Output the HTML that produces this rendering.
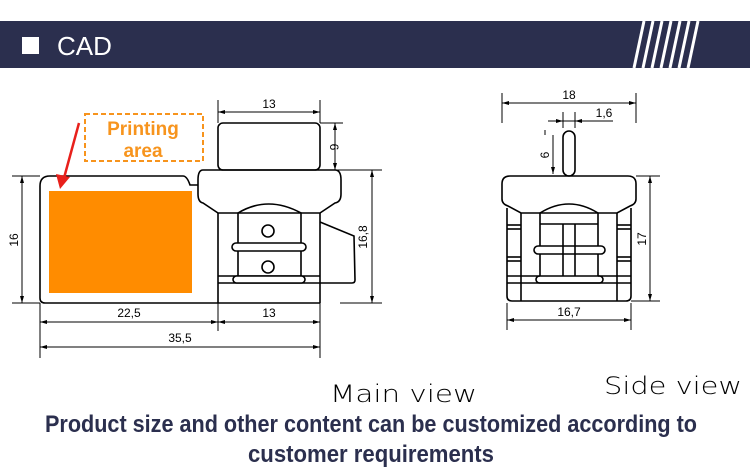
<!DOCTYPE html>
<html><head><meta charset="utf-8"><style>
html,body{margin:0;padding:0;background:#fff;}
body{width:750px;height:471px;overflow:hidden;position:relative;}
</style></head><body>
<svg width="750" height="471" viewBox="0 0 750 471" xmlns="http://www.w3.org/2000/svg" style="position:absolute;left:0;top:0">
<rect x="0" y="21" width="750" height="47" fill="#2b2f4e"/>
<rect x="22" y="37" width="17" height="17" fill="#fff"/>
<text x="57" y="55" font-family="Liberation Sans, sans-serif" font-size="26" fill="#fff">CAD</text>
<g stroke="#fff" stroke-width="3">
<line x1="644" y1="21" x2="634" y2="68"/><line x1="653" y1="21" x2="643" y2="68"/>
<line x1="662" y1="21" x2="652" y2="68"/><line x1="671" y1="21" x2="661" y2="68"/>
<line x1="680" y1="21" x2="670" y2="68"/><line x1="689" y1="21" x2="679" y2="68"/>
<line x1="698" y1="21" x2="688" y2="68"/>
</g>

<g fill="none" stroke="#000" stroke-width="1.6">
<path d="M198,185 L190,185 Q187,176 183,176 L50,176 Q40,176 40,186 L40,298 Q40,303 45,303 L320,303"/>
<rect x="218" y="123" width="102" height="47" rx="5"/>
<path d="M203,170 L335,170 Q341,170 341,180 L341,194 Q341,202 335,203 L320,213 L218,213 L203,203 Q198,202 198,194 L198,180 Q198,170 203,170 Z"/>
<line x1="218" y1="213" x2="218" y2="303"/>
<line x1="320" y1="213" x2="320" y2="303"/>
<path d="M238,276 L238,213 Q268,195 301,213 L301,276"/>
<circle cx="268" cy="231" r="6"/>
<circle cx="268" cy="267" r="6"/>
<rect x="232" y="243" width="74" height="8" rx="4" fill="#fff"/>
<line x1="218" y1="276" x2="320" y2="276"/>
<line x1="218" y1="283" x2="320" y2="283"/>
<rect x="233" y="276" width="72" height="7" rx="3.5" fill="#fff"/>
<path d="M320,222 L354,236 L355,280 Q355,283 352,283 L320,283"/>
</g>

<g stroke="#000" stroke-width="1" fill="none">
<line x1="218" y1="100" x2="218" y2="123"/><line x1="320" y1="100" x2="320" y2="123"/>
<line x1="218" y1="112" x2="320" y2="112"/>
<line x1="320" y1="123" x2="343" y2="123"/><line x1="320" y1="170" x2="343" y2="170"/>
<line x1="335" y1="123" x2="335" y2="170"/>
<line x1="340" y1="170" x2="382" y2="170"/><line x1="340" y1="303" x2="382" y2="303"/>
<line x1="372" y1="170" x2="372" y2="303"/>
<line x1="12" y1="176" x2="40" y2="176"/><line x1="12" y1="303" x2="40" y2="303"/>
<line x1="22" y1="176" x2="22" y2="303"/>
<line x1="40" y1="303" x2="40" y2="358"/><line x1="320" y1="303" x2="320" y2="358"/>
<line x1="218" y1="303" x2="218" y2="331"/>
<line x1="40" y1="322" x2="320" y2="322"/>
<line x1="40" y1="347" x2="320" y2="347"/>
<line x1="502" y1="93" x2="502" y2="123"/><line x1="636" y1="93" x2="636" y2="123"/>
<line x1="502" y1="103" x2="636" y2="103"/>
<line x1="563" y1="112" x2="563" y2="128"/><line x1="575" y1="112" x2="575" y2="128"/>
<line x1="548" y1="121" x2="613" y2="121"/>
<line x1="553" y1="135" x2="553" y2="174"/><line x1="545" y1="130" x2="545" y2="135"/>
<line x1="636" y1="176" x2="660" y2="176"/><line x1="631" y1="301" x2="660" y2="301"/>
<line x1="650" y1="176" x2="650" y2="301"/>
<line x1="507" y1="303" x2="507" y2="330"/><line x1="631" y1="303" x2="631" y2="330"/>
<line x1="507" y1="320" x2="631" y2="320"/>
</g>
<g fill="#000">
<path d="M218,112 l7,-2 v4z M320,112 l-7,-2 v4z M335,123 l-2,7 h4z M335,170 l-2,-7 h4z M372,170 l-2,7 h4z M372,303 l-2,-7 h4z M22,176 l-2,7 h4z M22,303 l-2,-7 h4z M40,322 l7,-2 v4z M218,322 l-7,-2 v4z M218,322 l7,-2 v4z M320,322 l-7,-2 v4z M40,347 l7,-2 v4z M320,347 l-7,-2 v4z"/>
<path d="M502,103 l7,-2 v4z M636,103 l-7,-2 v4z M563,121 l-7,-2 v4z M575,121 l7,-2 v4z M553,174 l-2,-7 h4z M650,176 l-2,7 h4z M650,301 l-2,-7 h4z M507,320 l7,-2 v4z M631,320 l-7,-2 v4z"/>
</g>
<g font-family="Liberation Sans, sans-serif" font-size="12" fill="#000" text-anchor="middle">
<text x="269" y="108">13</text>
<text x="0" y="0" transform="translate(330,147) rotate(90)">6</text>
<text x="0" y="0" transform="translate(367,237) rotate(-90)">16,8</text>
<text x="0" y="0" transform="translate(18,240) rotate(-90)">16</text>
<text x="129" y="317">22,5</text>
<text x="269" y="317">13</text>
<text x="180" y="342">35,5</text>
<text x="569" y="99">18</text>
<text x="604" y="117">1,6</text>
<text x="0" y="0" transform="translate(549,155) rotate(-90)">6</text>
<text x="0" y="0" transform="translate(646,239) rotate(-90)">17</text>
<text x="569" y="316">16,7</text>
</g>

<g fill="none" stroke="#000" stroke-width="1.6">
<rect x="563" y="131" width="12" height="45" rx="6"/>
<path d="M510,176 L628,176 Q636,176 636,184 L636,199 Q636,204 630,206 L617,213 L521,213 L508,206 Q502,204 502,199 L502,184 Q502,176 510,176 Z"/>
<path d="M507,208 L507,296 Q507,301 512,301 L626,301 Q631,301 631,296 L631,208"/>
<line x1="521" y1="213" x2="521" y2="301"/><line x1="617" y1="213" x2="617" y2="301"/>
<path d="M540,283 L540,213 Q569,195 598,213 L598,283"/>
<line x1="563" y1="224" x2="563" y2="283"/><line x1="575" y1="224" x2="575" y2="283"/>
<line x1="540" y1="224" x2="598" y2="224"/>
<rect x="534" y="246" width="71" height="8" rx="4" fill="#fff"/>
<rect x="536" y="276" width="67" height="7" rx="3.5" fill="#fff"/>
<line x1="563" y1="246" x2="563" y2="254"/><line x1="575" y1="246" x2="575" y2="254"/>
<line x1="507" y1="225" x2="521" y2="225"/><line x1="507" y1="229" x2="521" y2="229"/>
<line x1="617" y1="225" x2="631" y2="225"/><line x1="617" y1="229" x2="631" y2="229"/>
<line x1="507" y1="257" x2="521" y2="257"/><line x1="507" y1="261" x2="521" y2="261"/>
<line x1="617" y1="257" x2="631" y2="257"/><line x1="617" y1="261" x2="631" y2="261"/>
<line x1="507" y1="276" x2="540" y2="276"/><line x1="598" y1="276" x2="631" y2="276"/>
<line x1="507" y1="283" x2="631" y2="283"/>
</g>

<rect x="49" y="191" width="143" height="102" fill="#ff8c00"/>
<rect x="85" y="114" width="118" height="47" fill="none" stroke="#f7941d" stroke-width="2" stroke-dasharray="5,3"/>
<g font-family="Liberation Sans, sans-serif" font-weight="bold" font-size="19" fill="#f7941d" text-anchor="middle">
<text x="143" y="135">Printing</text>
<text x="143" y="157">area</text>
</g>
<line x1="79" y1="123" x2="64" y2="178" stroke="#e8201b" stroke-width="2.5"/>
<path d="M60,189 L56,174 L70,177 Z" fill="#e8201b"/>

<g font-family="DejaVu Sans Light, DejaVu Sans ExtraLight, Liberation Sans, sans-serif" font-size="24" fill="#000" font-weight="200">
<text x="330" y="402" textLength="147" lengthAdjust="spacingAndGlyphs">Main view</text>
<text x="604" y="394" textLength="138" lengthAdjust="spacingAndGlyphs">Side view</text>
</g>
<g font-family="Liberation Sans Narrow, Liberation Sans, sans-serif" font-weight="bold" font-size="24" fill="#2b2f4e" text-anchor="middle">
<text x="371" y="432" textLength="652" lengthAdjust="spacingAndGlyphs">Product size and other content can be customized according to</text>
<text x="371" y="462" textLength="246" lengthAdjust="spacingAndGlyphs">customer requirements</text>
</g>
</svg>
</body></html>
